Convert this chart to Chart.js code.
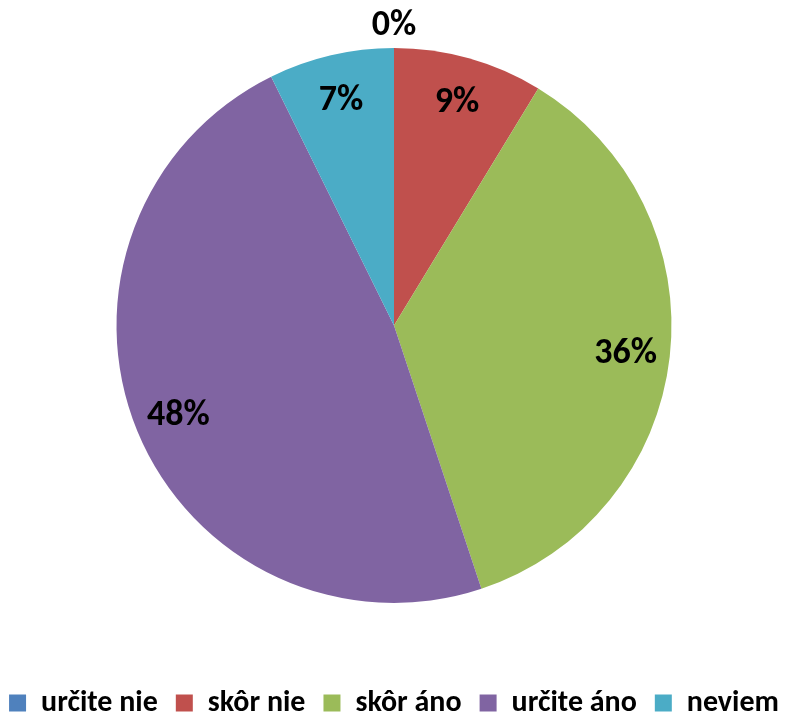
<!DOCTYPE html>
<html>
<head>
<meta charset="utf-8">
<script src="https://cdn.jsdelivr.net/npm/chart.js@4"></script>
<style>
  html, body { margin: 0; padding: 0; background: #fff; overflow: hidden; }
  body { width: 788px; height: 718px; position: relative; }
  /* the canvas is a bit larger than the page so the legend sits low like in the original */
  #wrap { position: absolute; left: -60px; top: -19px; width: 908px; height: 747px; }
</style>
</head>
<body>
<div id="wrap"><canvas id="chart"></canvas></div>
<script>
  const categories = ['určite nie', 'skôr nie', 'skôr áno', 'určite áno', 'neviem'];
  const shares = [0, 8.7, 36.2, 47.8, 7.3];
  const colors = ['#4F81BD', '#C0504D', '#9BBB59', '#8064A2', '#4BACC6'];

  const fontFamily = 'Carlito, Calibri, Lato, "Open Sans", sans-serif';

  // percentage labels on the slices, tiny slices get theirs outside the pie
  const sliceLabels = {
    id: 'sliceLabels',
    afterDatasetsDraw(chart) {
      const ctx = chart.ctx;
      const meta = chart.getDatasetMeta(0);
      ctx.save();
      ctx.font = 'bold 36px ' + fontFamily;
      ctx.fillStyle = '#000';
      ctx.textAlign = 'center';
      ctx.textBaseline = 'middle';
      meta.data.forEach((arc, i) => {
        const { x, y, startAngle, endAngle, outerRadius } = arc.getProps(['x', 'y', 'startAngle', 'endAngle', 'outerRadius'], true);
        const mid = (startAngle + endAngle) / 2;
        const r = shares[i] < 1 ? outerRadius + 24 : outerRadius * 0.84;
        ctx.fillText(Math.round(shares[i]) + '%', x + Math.cos(mid) * r, y + Math.sin(mid) * r + 2);
      });
      ctx.restore();
    }
  };

  new Chart(document.getElementById('chart'), {
    type: 'pie',
    data: {
      labels: categories,
      datasets: [{
        data: shares,
        backgroundColor: colors,
        borderWidth: 0,
        radius: 277.5
      }]
    },
    options: {
      responsive: true,
      maintainAspectRatio: false,
      animation: false,
      events: [],
      layout: { padding: 0 },
      plugins: {
        legend: {
          position: 'bottom',
          labels: {
            boxWidth: 17,
            boxHeight: 17,
            padding: 18,
            color: '#000',
            font: { family: fontFamily, size: 30, weight: 'bold' }
          }
        },
        tooltip: { enabled: false }
      }
    },
    plugins: [sliceLabels]
  });
</script>
</body>
</html>
